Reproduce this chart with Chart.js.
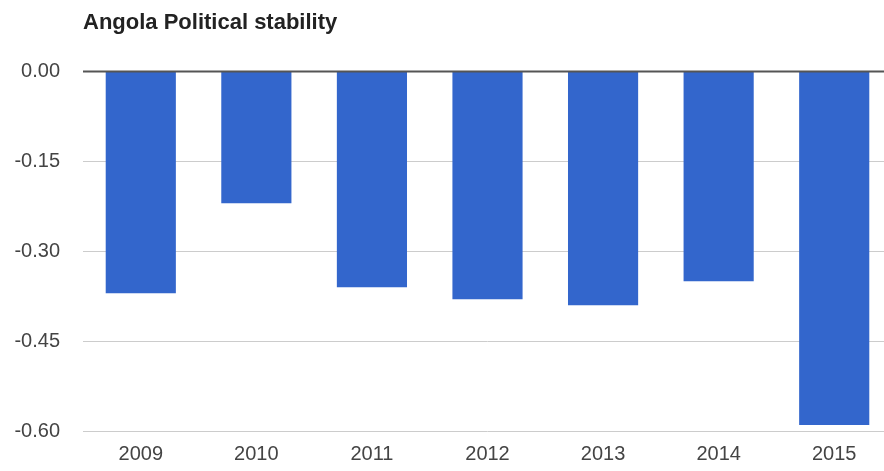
<!DOCTYPE html>
<html lang="en">
<head>
  <meta charset="UTF-8">
  <title>Angola Political stability</title>
  <script src="https://cdn.jsdelivr.net/npm/chart.js@4.4.0/dist/chart.umd.min.js"></script>
  <style>
    html, body {
      margin: 0;
      padding: 0;
      background: #ffffff;
      overflow: hidden;
    }

    /* the plot runs a little past the right edge of the window */
    .chart-box {
      position: relative;
      width: 892px;
      height: 471px;
    }
  </style>
</head>
<body>
  <div class="chart-box">
    <canvas id="stability-chart"></canvas>
  </div>

  <script>
    const years = ['2009', '2010', '2011', '2012', '2013', '2014', '2015'];
    const stability = [-0.37, -0.22, -0.36, -0.38, -0.39, -0.35, -0.59];
    const yTicks = [0, -0.15, -0.30, -0.45, -0.60];

    const fontFamily = 'Arial, "Liberation Sans", sans-serif';

    // dark baseline at zero, drawn on top of the bars
    const zeroLine = {
      id: 'zeroLine',
      afterDatasetsDraw(chart) {
        const y = chart.scales.y.getPixelForValue(0);
        const ctx = chart.ctx;
        ctx.save();
        ctx.strokeStyle = '#555555';
        ctx.lineWidth = 2;
        ctx.beginPath();
        ctx.moveTo(chart.chartArea.left, y);
        ctx.lineTo(chart.chartArea.right, y);
        ctx.stroke();
        ctx.restore();
      }
    };

    const ctx = document.getElementById('stability-chart').getContext('2d');
    new Chart(ctx, {
      type: 'bar',
      data: {
        labels: years,
        datasets: [{
          label: 'Political stability',
          data: stability,
          backgroundColor: '#3366cc',
          borderWidth: 0,
          categoryPercentage: 1,
          barPercentage: 0.607
        }]
      },
      options: {
        responsive: true,
        maintainAspectRatio: false,
        animation: false,
        layout: { padding: { top: 0, right: 0, bottom: 0, left: 0 } },
        plugins: {
          legend: { display: false },
          tooltip: { enabled: false },
          title: {
            display: true,
            text: 'Angola Political stability',
            align: 'start',
            fullSize: false,
            color: '#222222',
            font: { family: fontFamily, size: 22, weight: 'bold' },
            padding: { top: 10, bottom: 35 }
          }
        },
        scales: {
          x: {
            grid: { display: false },
            border: { display: false },
            ticks: {
              color: '#444444',
              font: { family: fontFamily, size: 20 },
              padding: 3
            },
            afterFit(scale) { scale.height = 40; }
          },
          y: {
            min: -0.6,
            max: 0,
            afterBuildTicks(scale) {
              scale.ticks = yTicks.map(v => ({ value: v }));
            },
            afterFit(scale) { scale.width = 83; },
            border: { display: false },
            grid: {
              color: '#cccccc',
              lineWidth: 1,
              drawTicks: false
            },
            ticks: {
              color: '#444444',
              font: { family: fontFamily, size: 20 },
              padding: 23,
              callback: v => v.toFixed(2)
            }
          }
        }
      },
      plugins: [zeroLine]
    });
  </script>
</body>
</html>
